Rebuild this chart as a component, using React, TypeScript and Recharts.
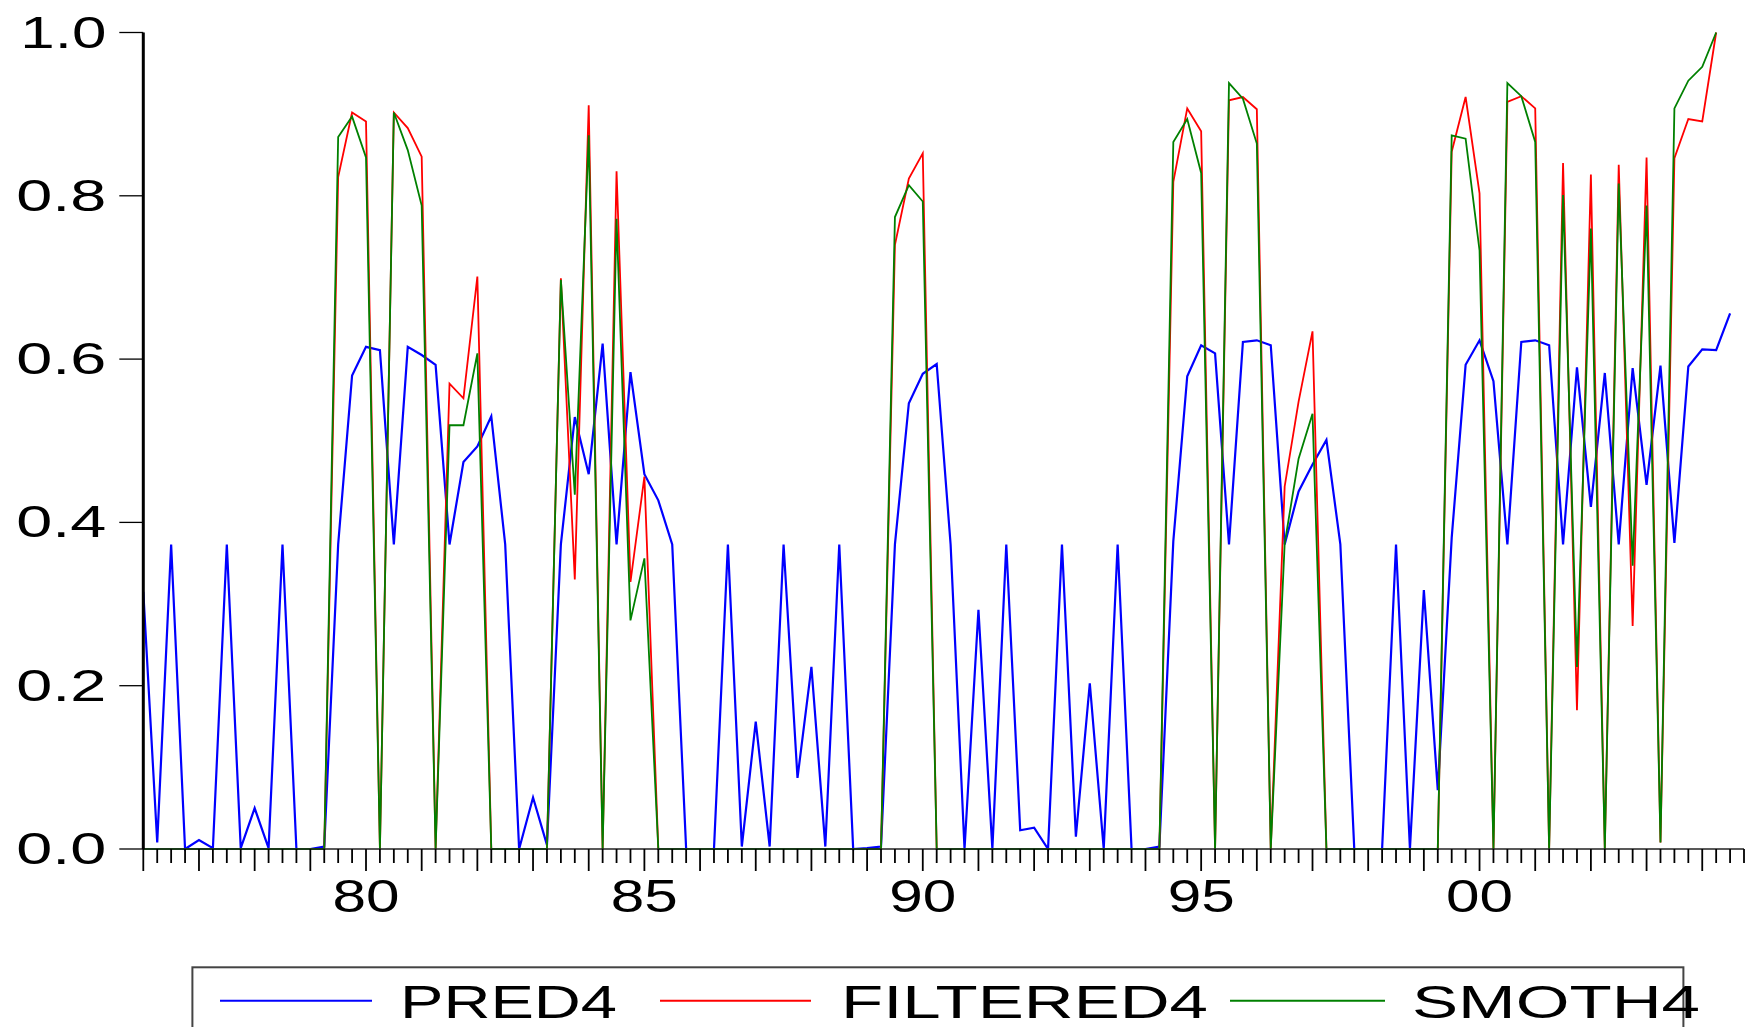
import { LineChart, Line, XAxis, YAxis } from 'recharts'

// quarterly, 1976Q1 .. 2004Q3 (index 0 = 1976Q1)
const pred4 = [
  0.315, 0.008, 0.373, 0.0, 0.011, 0.001, 0.373, 0.001, 0.05, 0.001,
  0.373, 0.0, 0.0, 0.003, 0.373, 0.58, 0.615, 0.611, 0.373, 0.615,
  0.605, 0.593, 0.373, 0.474, 0.493, 0.53, 0.373, 0.0, 0.063, 0.005,
  0.373, 0.529, 0.459, 0.619, 0.373, 0.584, 0.459, 0.427, 0.373, 0.0,
  0.0, 0.0, 0.373, 0.003, 0.156, 0.003, 0.373, 0.087, 0.223, 0.003,
  0.373, 0.0, 0.001, 0.003, 0.373, 0.546, 0.582, 0.594, 0.373, 0.0,
  0.293, 0.0, 0.373, 0.023, 0.026, 0.0, 0.373, 0.015, 0.203, 0.0,
  0.373, 0.0, 0.0, 0.003, 0.377, 0.579, 0.617, 0.607, 0.373, 0.621,
  0.623, 0.617, 0.373, 0.438, 0.471, 0.501, 0.373, 0.0, 0.0, 0.0,
  0.373, 0.0, 0.317, 0.072, 0.381, 0.593, 0.623, 0.573, 0.373, 0.621,
  0.623, 0.617, 0.373, 0.59, 0.419, 0.583, 0.373, 0.589, 0.446, 0.592,
  0.375, 0.591, 0.612, 0.611, 0.656,
]

const filtered4 = [
  0, 0, 0, 0, 0, 0, 0, 0, 0, 0,
  0, 0, 0, 0, 0.823, 0.902, 0.891, 0, 0.902, 0.883,
  0.848, 0, 0.57, 0.552, 0.701, 0, 0, 0, 0, 0,
  0.699, 0.33, 0.911, 0, 0.83, 0.327, 0.456, 0, 0, 0,
  0, 0, 0, 0, 0, 0, 0, 0, 0, 0,
  0, 0, 0, 0, 0.74, 0.821, 0.852, 0, 0, 0,
  0, 0, 0, 0, 0, 0, 0, 0, 0, 0,
  0, 0, 0, 0, 0.817, 0.907, 0.879, 0, 0.917, 0.921,
  0.906, 0, 0.444, 0.548, 0.634, 0, 0, 0, 0, 0,
  0, 0, 0, 0, 0.854, 0.921, 0.803, 0, 0.915, 0.922,
  0.907, 0, 0.84, 0.17, 0.826, 0, 0.838, 0.273, 0.847, 0.008,
  0.846, 0.894, 0.891, 1.0,
]

const smoth4 = [
  0, 0, 0, 0, 0, 0, 0, 0, 0, 0,
  0, 0, 0, 0, 0.872, 0.897, 0.847, 0, 0.902, 0.856,
  0.788, 0, 0.519, 0.519, 0.607, 0, 0, 0, 0, 0,
  0.697, 0.434, 0.874, 0, 0.772, 0.28, 0.356, 0, 0, 0,
  0, 0, 0, 0, 0, 0, 0, 0, 0, 0,
  0, 0, 0, 0, 0.774, 0.813, 0.793, 0, 0, 0,
  0, 0, 0, 0, 0, 0, 0, 0, 0, 0,
  0, 0, 0, 0, 0.866, 0.894, 0.828, 0, 0.938, 0.919,
  0.864, 0, 0.374, 0.478, 0.533, 0, 0, 0, 0, 0,
  0, 0, 0, 0, 0.874, 0.87, 0.733, 0, 0.938, 0.922,
  0.866, 0, 0.801, 0.223, 0.76, 0, 0.815, 0.347, 0.788, 0.008,
  0.907, 0.941, 0.958, 1.0,
]

const yTicks = [0, 0.2, 0.4, 0.6, 0.8, 1.0]
const yearLabels: Record<number, string> = { 16: '80', 36: '85', 56: '90', 76: '95', 96: '00' }
const seriesNames = ['PRED4', 'FILTERED4', 'SMOTH4']
const seriesKeys = ['pred4', 'filtered4', 'smoth4']
const seriesColors = ['#0000ff', '#ff0000', '#008000']

const LAST_Q = 115
const quarterTicks = Array.from({ length: LAST_Q + 1 }, (_, i) => i)

const data = pred4.map((v, i) => ({
  q: i,
  pred4: v,
  filtered4: i < filtered4.length ? filtered4[i] : null,
  smoth4: i < smoth4.length ? smoth4[i] : null,
}))

const FONT = '"Liberation Sans", Arial, sans-serif'

function QuarterTick(props: any) {
  const { x, y, payload } = props
  const q = payload.value
  const major = q % 4 === 0
  const label = yearLabels[q]
  return (
    <g>
      <line x1={x} x2={x} y1={y} y2={y + (major ? 22 : 14)} stroke="#000" strokeWidth={1.8} />
      {label && (
        <text x={x - 33.5} y={y + 63} textLength={67} lengthAdjust="spacingAndGlyphs"
          fontSize={46} fontFamily={FONT} fill="#000">{label}</text>
      )}
    </g>
  )
}

function ValueTick(props: any) {
  const { x, y, payload } = props
  const label = payload.value.toFixed(1)
  const wide = label !== '1.0'
  return (
    <g>
      <line x1={x - 24} x2={x} y1={y} y2={y} stroke="#000" strokeWidth={1.3} />
      <text x={wide ? x - 127 : x - 123} y={y + 15} textLength={wide ? 90 : 86}
        lengthAdjust="spacingAndGlyphs" fontSize={44} fontFamily={FONT} fill="#000">{label}</text>
    </g>
  )
}

const legendItems = [
  { line: [220, 372], text: 400, len: 217 },
  { line: [660, 811], text: 841, len: 367 },
  { line: [1230, 1385], text: 1412, len: 288 },
]

function ChartLegend() {
  return (
    <svg width={1754} height={87} style={{ position: 'absolute', left: 0, top: 940 }}>
      <rect x={192.4} y={27.3} width={1491} height={90} fill="none" stroke="#444" strokeWidth={2} />
      {legendItems.map((it, k) => (
        <g key={seriesNames[k]}>
          <line x1={it.line[0]} x2={it.line[1]} y1={60.7} y2={60.7} stroke={seriesColors[k]} strokeWidth={2} />
          <text x={it.text} y={78} textLength={it.len} lengthAdjust="spacingAndGlyphs"
            fontSize={46} fontFamily={FONT} fill="#000">{seriesNames[k]}</text>
        </g>
      ))}
    </svg>
  )
}

export default function App() {
  return (
    <div style={{ position: 'absolute', left: 0, top: 0, width: 1754, height: 1027, background: '#fff', overflow: 'hidden' }}>
      <LineChart width={1754} height={1027} data={data} margin={{ top: 32.5, right: 10, bottom: 0, left: 0 }}>
        <XAxis xAxisId="b" dataKey="q" type="number" domain={[0, LAST_Q]} ticks={quarterTicks} interval={0}
          height={178} tickSize={0} tickMargin={0} tickLine={false} tick={<QuarterTick />}
          axisLine={{ stroke: '#222', strokeWidth: 1.5 }} allowDecimals={false} />
        <XAxis xAxisId="t" dataKey="q" type="number" domain={[0, LAST_Q]} orientation="top" height={0}
          tick={false} tickLine={false} axisLine={{ stroke: '#000', strokeWidth: 2 }} />
        <YAxis yAxisId="l" domain={[0, 1]} ticks={yTicks} width={143.3} tickSize={0} tickMargin={0}
          tickLine={false} tick={<ValueTick />} axisLine={{ stroke: '#000', strokeWidth: 3 }} />
        <YAxis yAxisId="r" domain={[0, 1]} orientation="right" width={0} tick={false} tickLine={false}
          axisLine={{ stroke: '#000', strokeWidth: 3 }} />
        {seriesKeys.map((k, idx) => (
          <Line key={k} xAxisId="b" yAxisId="l" type="linear" dataKey={k} stroke={seriesColors[idx]}
            strokeWidth={idx === 0 ? 2.2 : 1.8} dot={false} activeDot={false} isAnimationActive={false} />
        ))}
      </LineChart>
      <ChartLegend />
    </div>
  )
}
